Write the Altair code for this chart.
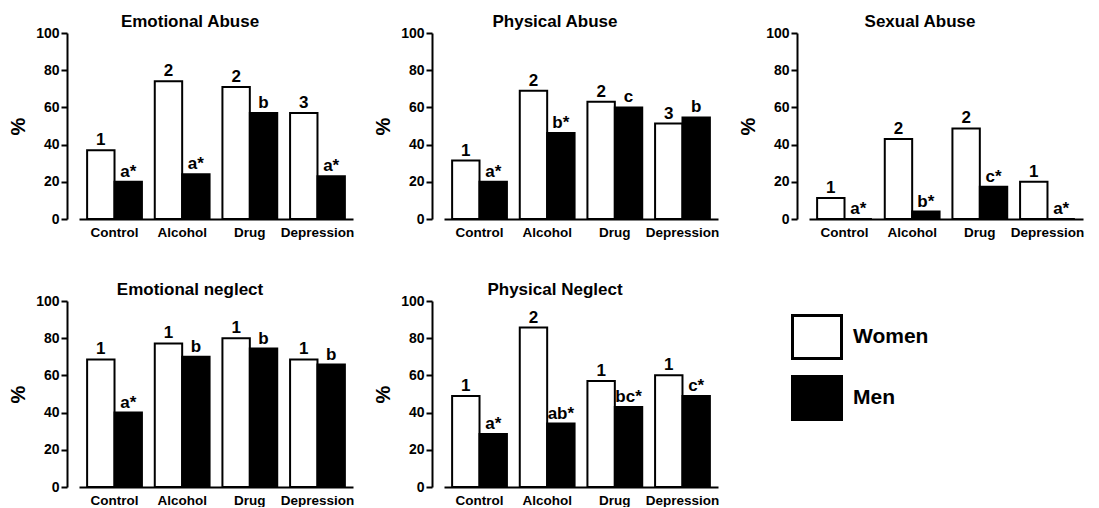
import altair as alt
import pandas as pd

groups = ["Control", "Alcohol", "Drug", "Depression"]
sexes = ["Women", "Men"]

titles = ["Emotional Abuse", "Physical Abuse", "Sexual Abuse",
          "Emotional neglect", "Physical Neglect"]

ea_women = [37, 74, 71, 57]
ea_men = [20, 24, 57, 23]
ea_women_lbl = ["1", "2", "2", "3"]
ea_men_lbl = ["a*", "a*", "b", "a*"]

pa_women = [31.4, 69, 63, 51.3]
pa_men = [20, 46.3, 60, 54.6]
pa_women_lbl = ["1", "2", "2", "3"]
pa_men_lbl = ["a*", "b*", "c", "b"]

sa_women = [11.3, 43, 48.7, 20]
sa_men = [0, 4, 17.3, 0]
sa_women_lbl = ["1", "2", "2", "1"]
sa_men_lbl = ["a*", "b*", "c*", "a*"]

en_women = [68.6, 77.2, 80, 68.6]
en_men = [40, 70, 74.4, 65.8]
en_women_lbl = ["1", "1", "1", "1"]
en_men_lbl = ["a*", "b", "b", "b"]

pn_women = [48.9, 85.7, 57, 60.1]
pn_men = [28.5, 34.1, 43, 48.9]
pn_women_lbl = ["1", "2", "1", "1"]
pn_men_lbl = ["a*", "ab*", "bc*", "c*"]

FONT = "Liberation Sans"
BOX = "M-1,-0.878H1V0.878H-1Z"


def panel(title, w, m, wl, ml):
    rows = []
    for g, a, b, c, d in zip(groups, w, m, wl, ml):
        rows.append(dict(group=g, sex="Women", value=a, label=c))
        rows.append(dict(group=g, sex="Men", value=b, label=d))
    df = pd.DataFrame(rows)
    base = alt.Chart(df).encode(
        x=alt.X("group:N", sort=groups,
                scale=alt.Scale(paddingInner=0.19, paddingOuter=0.12),
                axis=alt.Axis(title=None, labelAngle=0, ticks=False, domainWidth=2,
                              domainColor="black", labelPadding=6, labelFont=FONT,
                              labelFontSize=13.5, labelFontWeight="bold",
                              labelColor="black")),
        xOffset=alt.XOffset("sex:N", sort=sexes,
                            scale=alt.Scale(paddingInner=0, paddingOuter=0)),
        y=alt.Y("value:Q", scale=alt.Scale(domain=[0, 100], nice=False),
                axis=alt.Axis(values=[0, 20, 40, 60, 80, 100], title="%", offset=12,
                              grid=False, domainWidth=2, domainColor="black",
                              tickWidth=2, tickSize=6, tickColor="black",
                              labelFont=FONT, labelFontSize=14, labelFontWeight="bold",
                              labelColor="black", labelPadding=2,
                              titleFont=FONT, titleFontSize=20, titleFontWeight="bold",
                              titleColor="black", titlePadding=7)),
    )
    bars = base.mark_bar(stroke="black", strokeWidth=2).encode(
        fill=alt.Fill("sex:N", sort=sexes,
                      scale=alt.Scale(domain=sexes, range=["white", "black"]),
                      legend=alt.Legend(title=None, orient="none", legendX=712,
                                        legendY=278, symbolType=BOX,
                                        symbolSize=2401, symbolStrokeColor="black",
                                        symbolStrokeWidth=3, labelFont=FONT,
                                        labelFontSize=21, labelFontWeight="bold",
                                        labelColor="black", labelOffset=10,
                                        rowPadding=5, padding=0))
    )
    text = base.mark_text(baseline="bottom", dy=-1, font=FONT, fontSize=17,
                          fontWeight="bold", color="black").encode(text="label:N")
    return alt.layer(bars, text).properties(
        width=274, height=186,
        title=alt.TitleParams(title, dx=-26, anchor="middle", font=FONT, fontSize=17,
                              fontWeight="bold", color="black", offset=-5),
    )


p1 = panel(titles[0], ea_women, ea_men, ea_women_lbl, ea_men_lbl)
p2 = panel(titles[1], pa_women, pa_men, pa_women_lbl, pa_men_lbl)
p3 = panel(titles[2], sa_women, sa_men, sa_women_lbl, sa_men_lbl)
p4 = panel(titles[3], en_women, en_men, en_women_lbl, en_men_lbl)
p5 = panel(titles[4], pn_women, pn_men, pn_women_lbl, pn_men_lbl)

chart = alt.concat(
    p1, p2, p3, p4, p5, columns=3,
    spacing=alt.RowColnumber(row=82, column=91), bounds="flush",
).resolve_scale(fill="shared").configure_view(stroke=None).properties(
    background="white", padding={"left": 0, "top": 5, "right": 5, "bottom": 0})

chart.save("out.html", embed_options={"renderer": "svg", "actions": False})
